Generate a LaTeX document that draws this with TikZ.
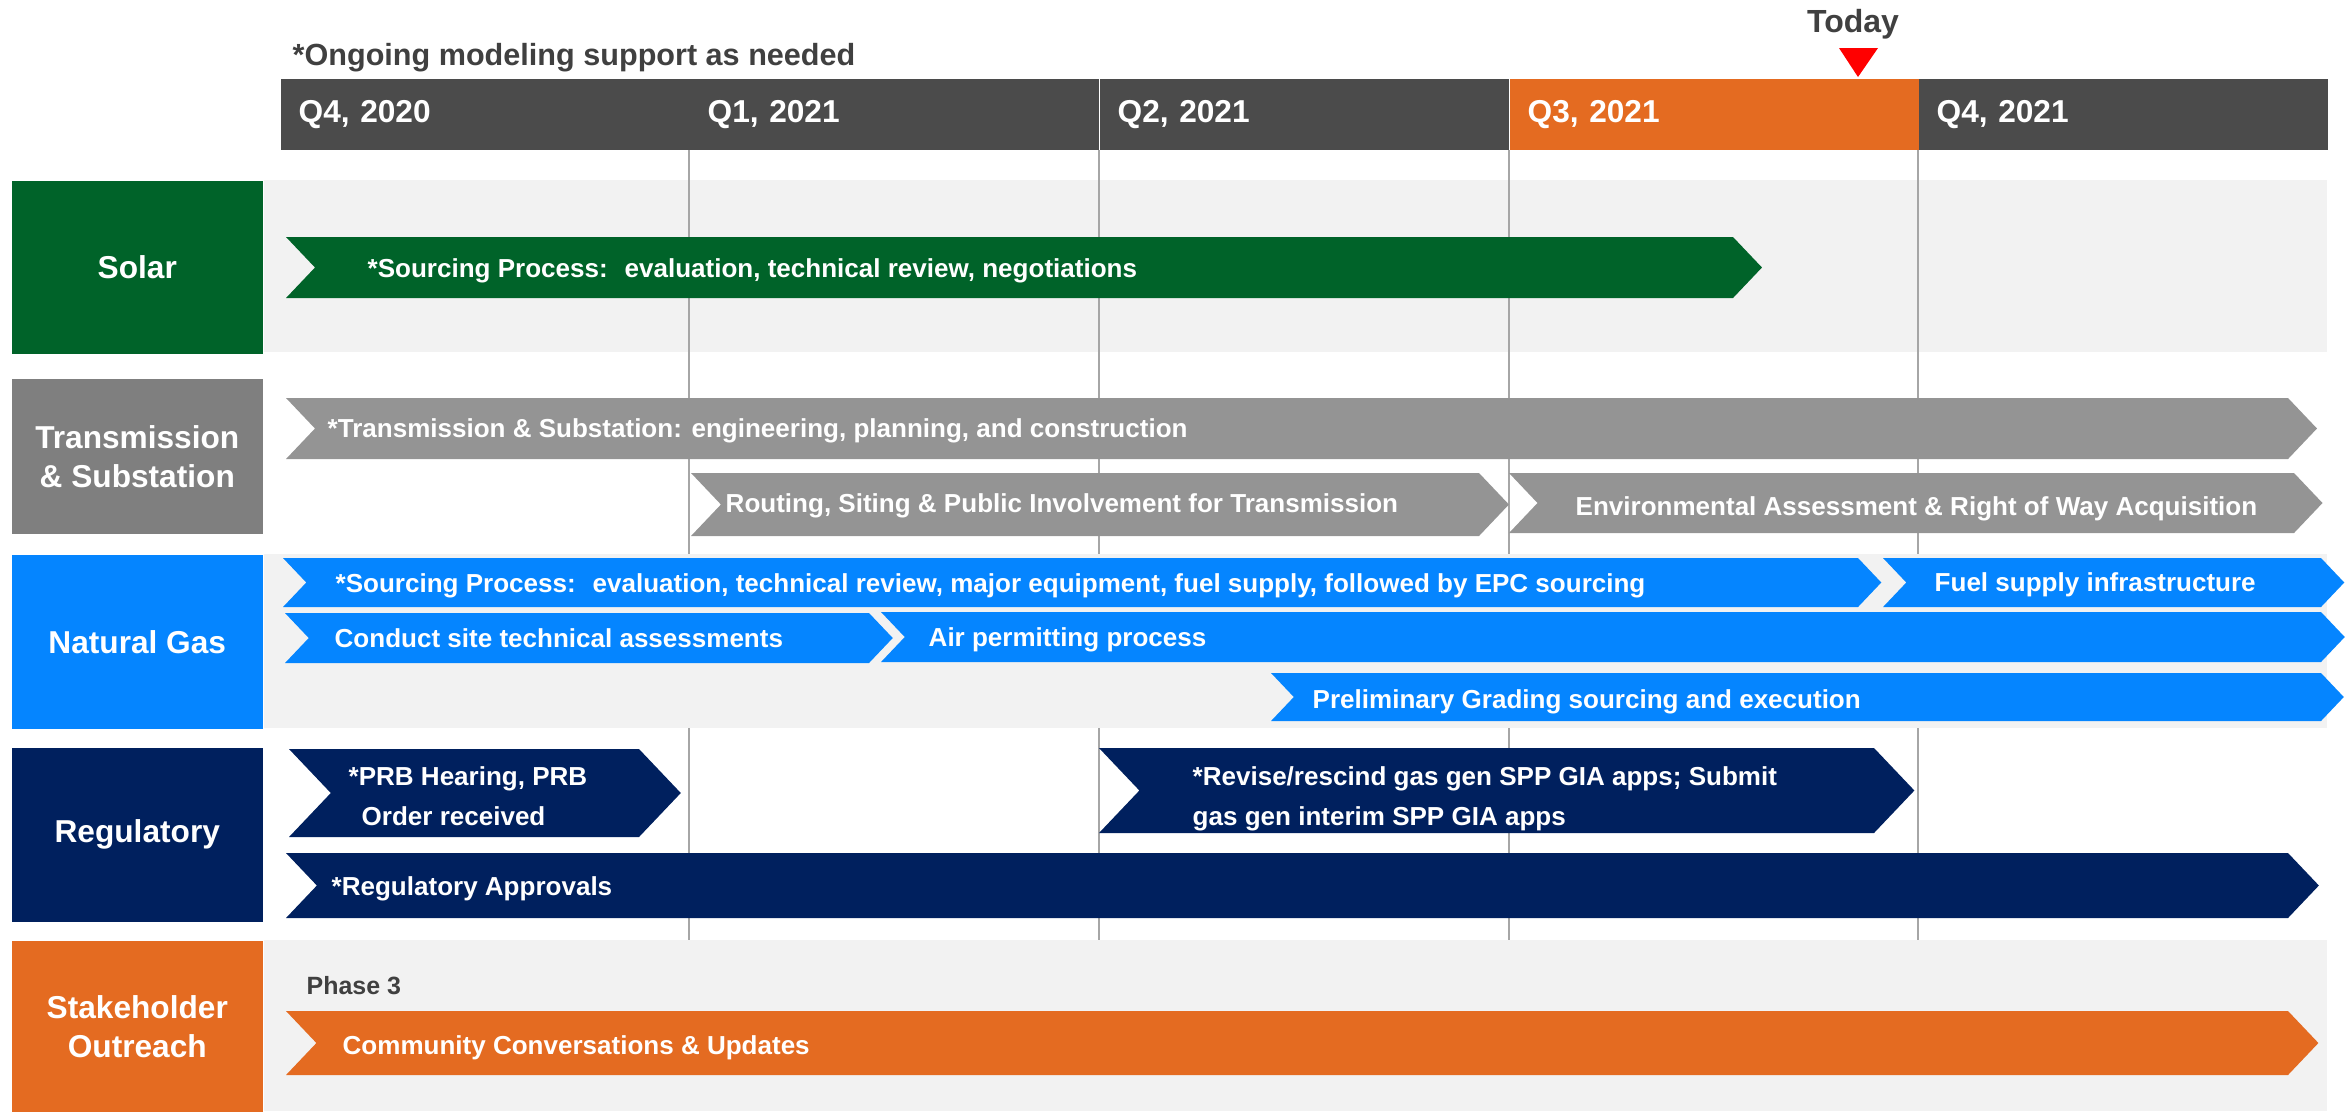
\documentclass[tikz,border=0pt]{standalone}
\usepackage{fontspec}
\setmainfont{Liberation Sans}
\usepackage{tikz}
\usetikzlibrary{calc}
\definecolor{hdrgray}{HTML}{4B4B4B}
\definecolor{nowora}{HTML}{E46B21}
\definecolor{solargreen}{HTML}{006329}
\definecolor{trlabel}{HTML}{7F7F7F}
\definecolor{trbar}{HTML}{949494}
\definecolor{gasblue}{HTML}{0585FF}
\definecolor{regnavy}{HTML}{00205E}
\definecolor{bandgray}{HTML}{F2F2F2}
\definecolor{txtgray}{HTML}{404040}
\definecolor{gridgray}{HTML}{A6A6A6}
% chevron bar: [colour]{x start}{x end of body}{y top}{y bottom}
\newcommand{\chevbar}[5][regnavy]{%
  \fill[#1] (#2,#4) -- (#3,#4) -- ({#3+0.475*(#5-#4)},{(#4+#5)/2}) -- (#3,#5) -- (#2,#5) -- ({#2+0.475*(#5-#4)},{(#4+#5)/2}) -- cycle;}

\begin{document}
\begin{tikzpicture}[
  x=0.01cm, y=-0.01cm,
  every node/.style={font=\bfseries},
  qcell/.style={anchor=north west,text width=3.73cm,inner xsep=0.18cm,inner ysep=0pt,minimum height=0.71cm,align=left,text=white,font=\fontsize{9}{11}\selectfont\bfseries},
  rowlbl/.style={anchor=north west,minimum width=2.51cm,inner sep=0pt,align=center,text=white,font=\fontsize{9}{11.1}\selectfont\bfseries},
  bartxt/.style={inner sep=0pt,text=white,align=left,font=\fontsize{7.4}{11.4}\selectfont\bfseries},
  grid/.style={draw=gridgray,line width=0.4pt}
]
\useasboundingbox (0,0) rectangle (2351,1111);

% quarter header
\node[qcell,fill=hdrgray] (q4a) at (280,78) {Q4, 2020};
\node[qcell,fill=hdrgray] (q1b) at (689,78) {Q1, 2021};
\node[qcell,fill=hdrgray] (q2b) at (1099,78) {Q2, 2021};
\node[qcell,fill=nowora] (q3b) at (1509,78) {Q3, 2021};
\node[qcell,fill=hdrgray] (q4b) at (1918,78) {Q4, 2021};

\node[anchor=base west,inner sep=0pt,text=txtgray,font=\fontsize{8.7}{10}\selectfont\bfseries] (ongoing) at (292,65) {*Ongoing modeling support as needed};
\node[anchor=base,inner sep=0pt,text=txtgray,font=\fontsize{9.1}{10}\selectfont\bfseries] (today) at (1853,32) {Today};
\fill[red] (1839,48) -- (1878,48) -- (1858,77) -- cycle;

% row labels
\node[rowlbl,fill=solargreen,minimum height=1.73cm] (solar) at (11,180) {Solar};
\node[rowlbl,fill=trlabel,minimum height=1.55cm] (trans) at (11,378) {Transmission\\\& Substation};
\node[rowlbl,fill=gasblue,minimum height=1.74cm] (gas) at (11,554) {Natural Gas};
\node[rowlbl,fill=regnavy,minimum height=1.74cm] (reg) at (11,747) {Regulatory};
\node[rowlbl,fill=nowora,minimum height=1.71cm] (stake) at (11,940) {Stakeholder\\Outreach};

% bands and quarter lines
\fill[bandgray] (solar.north east) rectangle (2327,352);
\draw[grid] (q1b.south west) -- (q1b.south west |- stake.north);
\draw[grid] (q2b.south west) -- (q2b.south west |- stake.north);
\draw[grid] (q3b.south west) -- (q3b.south west |- stake.north);
\draw[grid] (q4b.south west) -- (q4b.south west |- stake.north);
\fill[bandgray] (gas.north east) rectangle (2327,728);
\fill[bandgray] (stake.north east) rectangle (2327,1111);

% bars
\chevbar[solargreen]{286}{1733}{237}{298}
\chevbar[trbar]{286}{2288}{398}{459}
\chevbar[trbar]{691}{1479}{473}{536}
\chevbar[trbar]{1509}{2294}{473}{533}
\chevbar[gasblue]{283}{1858}{558}{607}
\chevbar[gasblue]{1883}{2321}{558}{607}
\chevbar[gasblue]{285}{869}{613}{663}
\chevbar[gasblue]{881}{2321}{612}{662}
\chevbar[gasblue]{1271}{2321}{673}{721}
\chevbar{289}{639}{749}{837}
\chevbar{1099}{1874}{748}{833}
\chevbar{286}{2288}{853}{918}
\chevbar[nowora]{286}{2288}{1011}{1075}

% bar texts
\node[bartxt,anchor=base west] (soltxt) at (367,277) {*Sourcing Process:~ evaluation, technical review, negotiations};
\node[bartxt,anchor=base west] (trtxt) at (327,437) {*Transmission \& Substation: engineering, planning, and construction};
\node[bartxt,anchor=base west] (routetxt) at (725,512) {Routing, Siting \& Public Involvement for Transmission};
\node[bartxt,anchor=base west] (envtxt) at (1575,515) {Environmental Assessment \& Right of Way Acquisition};
\node[bartxt,anchor=base west] (gassrctxt) at (335,592) {*Sourcing Process:~ evaluation, technical review, major equipment, fuel supply, followed by EPC sourcing};
\node[bartxt,anchor=base west] (fueltxt) at (1934,591) {Fuel supply infrastructure};
\node[bartxt,anchor=base west] (sitetxt) at (334,647) {Conduct site technical assessments};
\node[bartxt,anchor=base west] (airtxt) at (928,646) {Air permitting process};
\node[bartxt,anchor=base west] (gradetxt) at (1312,708) {Preliminary Grading sourcing and execution};
\node[bartxt,anchor=north west] (prbtxt) at (348,766) {*PRB Hearing, PRB\\\hspace{0.13cm}Order received};
\node[bartxt,anchor=north west] (revtxt) at (1192,766) {*Revise/rescind gas gen SPP GIA apps; Submit\\gas gen interim SPP GIA apps};
\node[bartxt,anchor=base west] (apprtxt) at (331,895) {*Regulatory Approvals};
\node[anchor=base west,inner sep=0pt,text=txtgray,font=\fontsize{7.1}{9}\selectfont\bfseries] (phase) at (306,994) {Phase 3};
\node[bartxt,anchor=base west] (commtxt) at (342,1054) {Community Conversations \& Updates};
\end{tikzpicture}
\end{document}
